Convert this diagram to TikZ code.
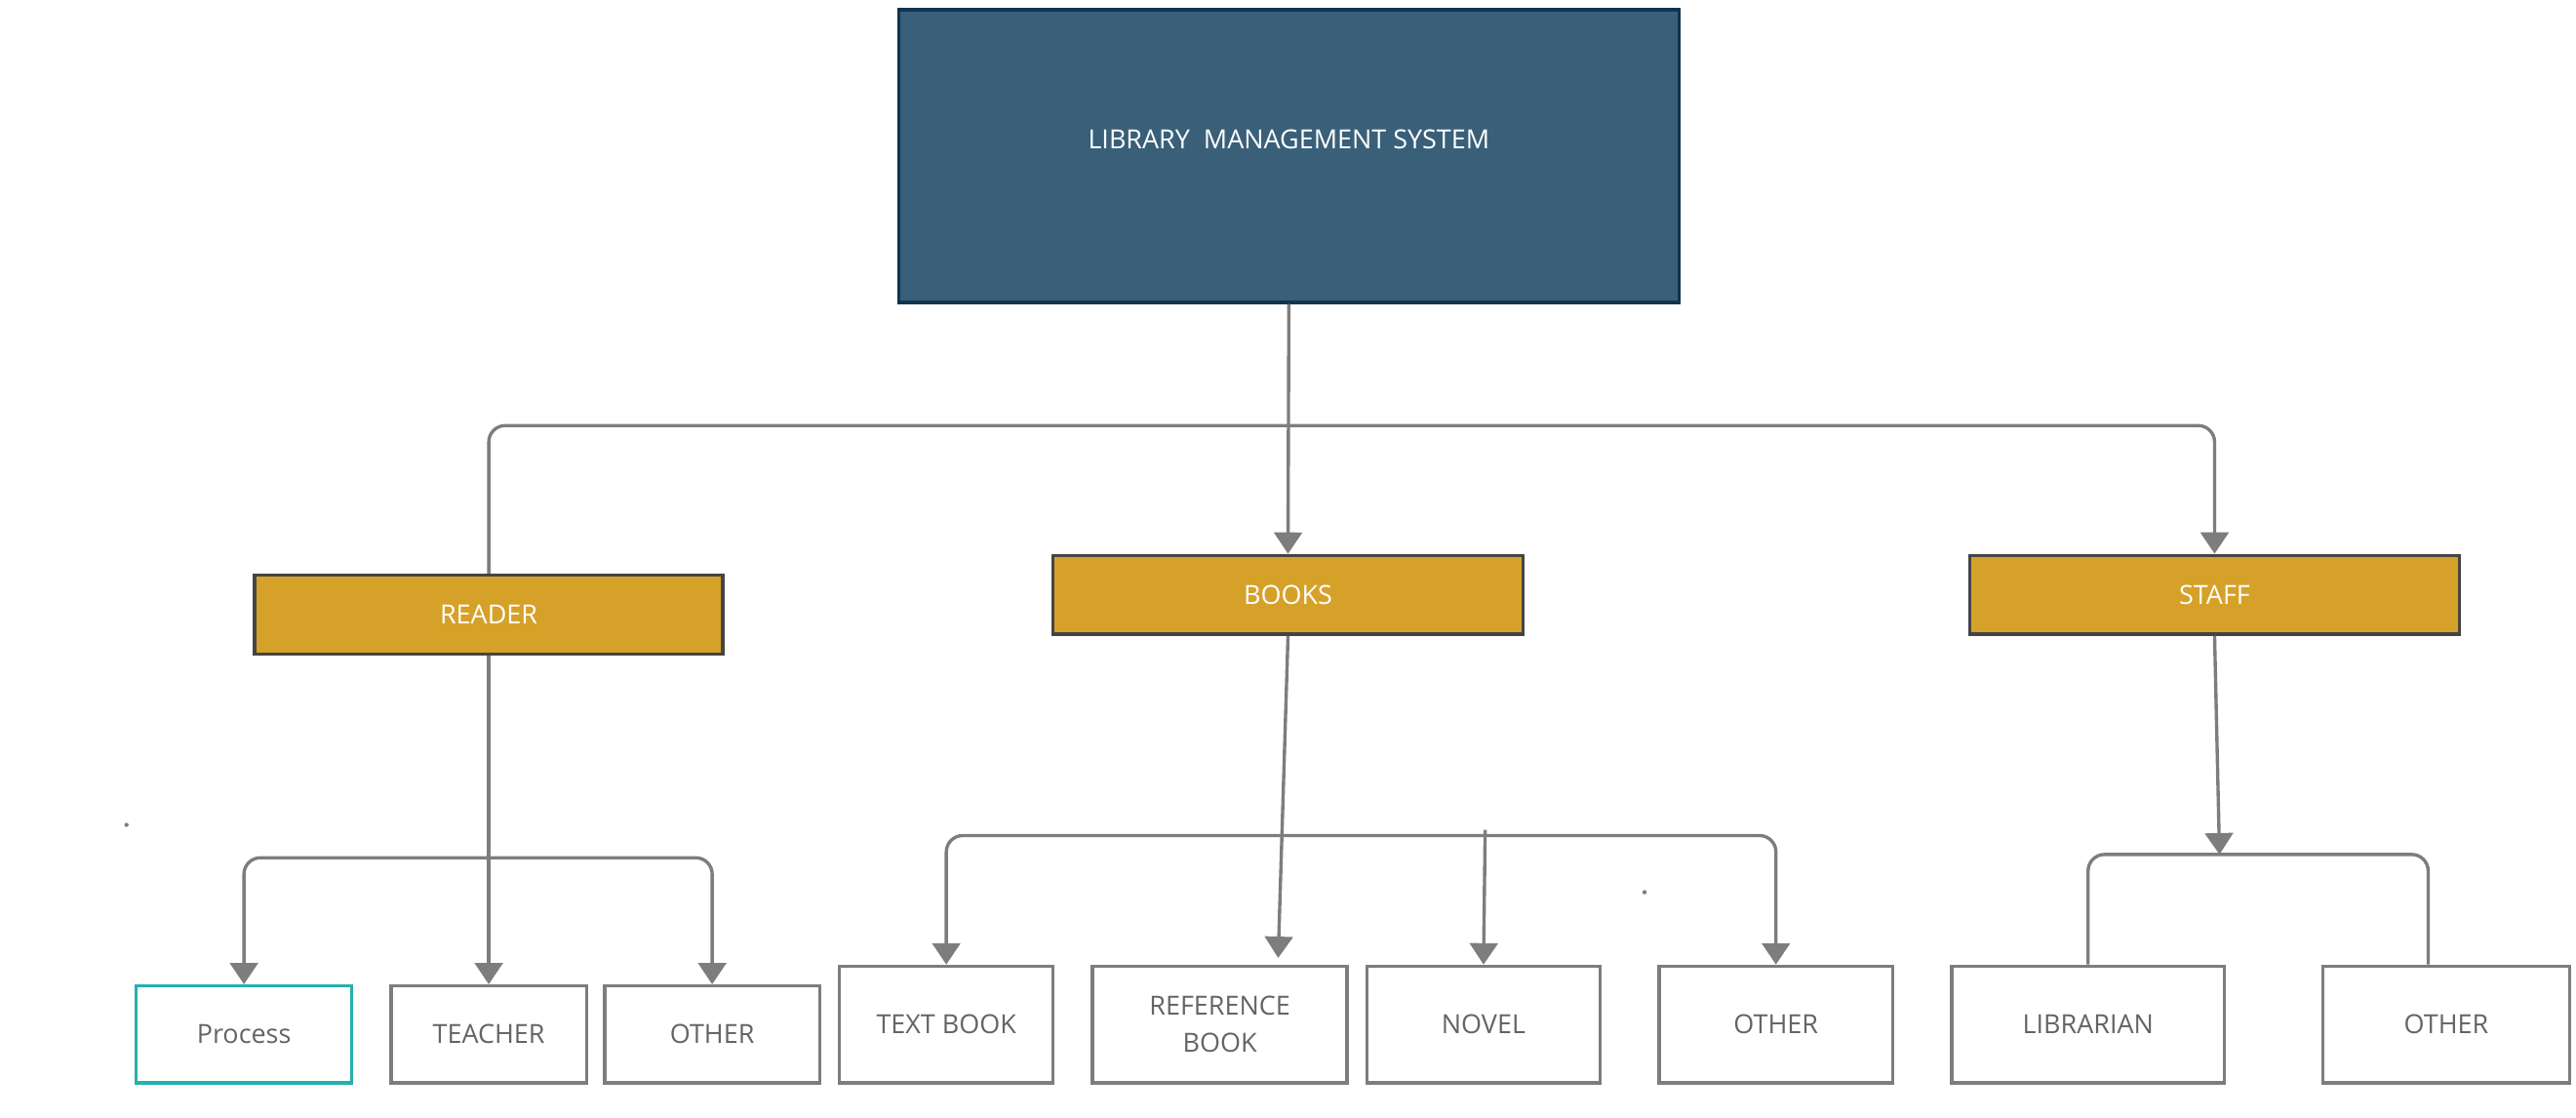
\documentclass[tikz,border=0pt]{standalone}
\usepackage{fontspec}
\setmainfont{Open Sans}
\usetikzlibrary{arrows.meta}
\definecolor{lmsblue}{RGB}{58,96,121}
\definecolor{lmsedge}{RGB}{14,52,80}
\definecolor{gold}{RGB}{214,161,41}
\definecolor{goldedge}{RGB}{68,68,68}
\definecolor{wire}{RGB}{125,125,125}
\definecolor{leaftext}{RGB}{100,100,100}
\definecolor{processteal}{RGB}{38,176,174}

\begin{document}
\begin{tikzpicture}[x=1pt,y=-1pt,
	link/.style={draw=wire,line width=2pt},
	label font/.style={font=\fontsize{16}{22.5}\selectfont}]
		\useasboundingbox (0,0) rectangle (1568,680);
		\begin{scope}[every node/.style={draw=lmsedge,fill=lmsblue,line width=2pt,text=white,label font,
			minimum width=475pt,minimum height=178pt}]
			\node (LMS) at (784.5,95) {\raisebox{20pt}{LIBRARY\ \ MANAGEMENT SYSTEM}};
		\end{scope}
		\begin{scope}[every node/.style={draw=goldedge,fill=gold,line width=2pt,text=white,label font,
			minimum height=48pt}]
			\node[minimum width=285pt] (reader) at (297.5,374) {READER};
			\node[minimum width=286pt] (books) at (784,362) {BOOKS};
			\node[minimum width=298pt] (staff) at (1348,362) {STAFF};
		\end{scope}
		\begin{scope}[every node/.style={draw=wire,fill=white,line width=2pt,text=leaftext,label font,align=center}]
			\node[draw=processteal,minimum width=131pt,minimum height=59pt] (process) at (148.5,629.5) {Process};
			\node[minimum width=119pt,minimum height=59pt] (teacher) at (297.5,629.5) {TEACHER};
			\node[minimum width=131pt,minimum height=59pt] (other1) at (433.5,629.5) {OTHER};
			\node[minimum width=130pt,minimum height=71pt] (textbook) at (576,623.5) {TEXT BOOK};
			\node[minimum width=155pt,minimum height=71pt] (refbook) at (742.5,623.5) {REFERENCE\\BOOK};
			\node[minimum width=142pt,minimum height=71pt] (novel) at (903,623.5) {NOVEL};
			\node[minimum width=142pt,minimum height=71pt] (other2) at (1081,623.5) {OTHER};
			\node[minimum width=166pt,minimum height=71pt] (librarian) at (1271,623.5) {LIBRARIAN};
			\node[minimum width=150pt,minimum height=71pt] (other3) at (1489,623.5) {OTHER};
		\end{scope}
		\coordinate (topbus) at (784,259);
		\coordinate (readerbus) at (297,522);
		\coordinate (bookbus) at (830,508.5);
		\coordinate (noveltop) at (904,505);
		\coordinate (staffbus) at (1351,520);
		\begin{scope}[>={Triangle[width=17pt,length=13pt]},
			every edge/.style={link}]
			\path [->] (LMS.south) edge (books.north);
			\draw [link,->,rounded corners=10pt] (reader.north) -- (reader.north |- topbus) -- (staff.north |- topbus) -- (staff.north);
			\path [->] (reader.south) edge (teacher.north);
			\draw [link,<->,rounded corners=10pt] (process.north) -- (process.north |- readerbus) -- (other1.north |- readerbus) -- (other1.north);
			\path [->] (books.south) edge ([xshift=35.5pt,yshift=4pt]refbook.north);
			\draw [link,<->,rounded corners=10pt] (textbook.north) -- (textbook.north |- bookbus) -- (other2.north |- bookbus) -- (other2.north);
			\path [->] (noveltop) edge (novel.north);
			\path [->] (staff.south) edge (staffbus);
			\draw [link,rounded corners=10pt] (librarian.north) -- (librarian.north |- staffbus) -- ([xshift=-11pt]other3.north |- staffbus) -- ([xshift=-11pt]other3.north);
		\end{scope}
		\fill[wire] (77,502) circle (1.3);
		\fill[wire] (1001,543) circle (1.3);
	\end{tikzpicture}
\end{document}
